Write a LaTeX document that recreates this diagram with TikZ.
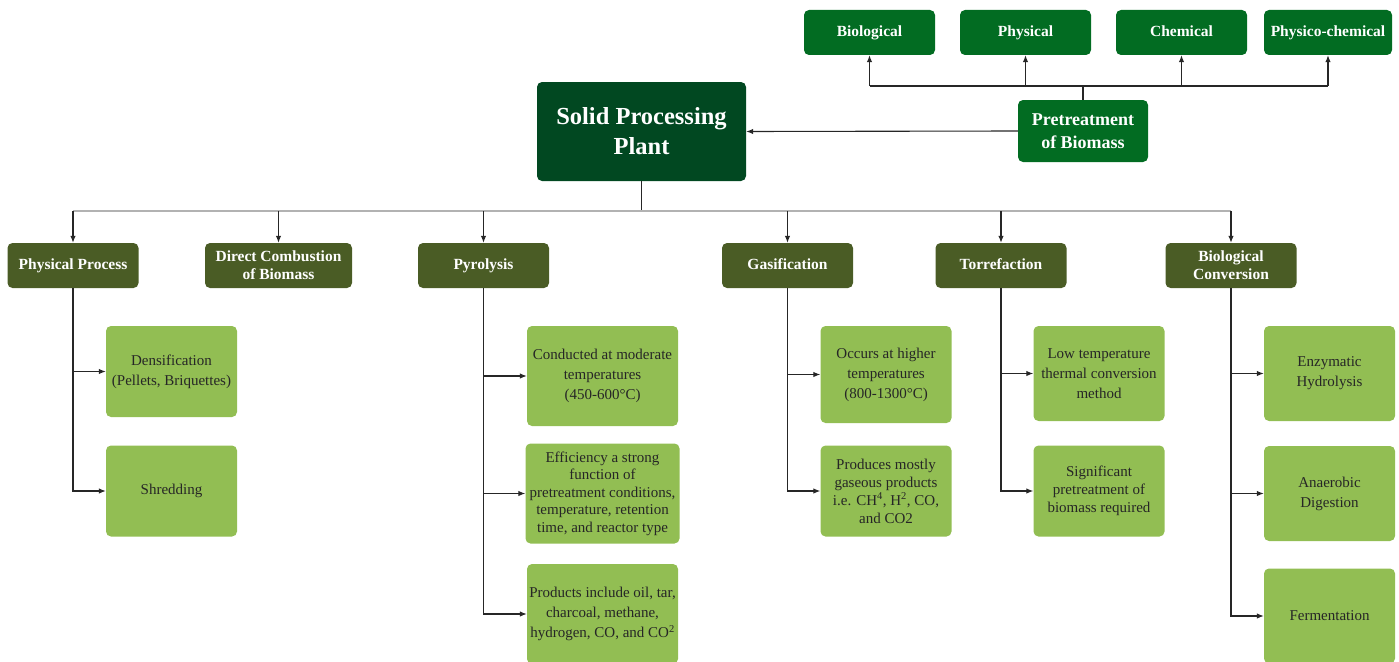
\documentclass[tikz,border=0pt]{standalone}
\usepackage{fontspec}
\setmainfont{Liberation Serif}
\usetikzlibrary{arrows.meta,positioning}

\definecolor{topgreen}{RGB}{2,108,34}
\definecolor{plantgreen}{RGB}{1,72,33}
\definecolor{olive}{RGB}{74,92,37}
\definecolor{leaf}{RGB}{146,190,83}

\tikzset{
  basebox/.style={rectangle,rounded corners=5pt,align=center,inner sep=1pt},
  oneline/.style={text height=11pt,text depth=3pt},
  topbox/.style={basebox,oneline,fill=topgreen,text=white,font=\bfseries\fontsize{15.5}{18}\selectfont,
    minimum width=131,minimum height=45},
  plantbox/.style={basebox,fill=plantgreen,text=white,font=\bfseries\fontsize{24.5}{30}\selectfont,
    minimum width=209,minimum height=99},
  procbox/.style={basebox,fill=olive,text=white,font=\bfseries\fontsize{15.5}{18}\selectfont,
    minimum width=131,minimum height=45},
  detailbox/.style={basebox,fill=leaf,text=black!85,font=\fontsize{15}{20}\selectfont,
    minimum width=131,minimum height=91},
  arr/.style={-{Latex[length=7pt,width=5.5pt]},black!85,line width=1.1pt},
  link/.style={black!85,line width=1.1pt}
}

\begin{document}
\begin{tikzpicture}[x=1pt,y=-1pt]
\useasboundingbox (0,0) rectangle (1399,661);

% top row: pretreatment types
\node[topbox] (bio) at (869.5,32.5) {Biological};
\node[topbox] (phy) at (1025.5,32.5) {Physical};
\node[topbox] (che) at (1181.5,32.5) {Chemical};
\node[topbox,minimum width=128] (pch) at (1328,32.5) {Physico-chemical};
\node[topbox,minimum width=130,minimum height=62,text height=,text depth=,font=\bfseries\fontsize{18}{23}\selectfont] (pre) at (1083,131) {Pretreatment\\of Biomass};

% main plant
\node[plantbox] (spp) at (641.5,131.5) {Solid Processing\\Plant};

% processes
\node[procbox,oneline] (pp) at (73,265.5) {Physical Process};
\node[procbox,minimum width=147] (dc) at (278.5,265.5) {Direct Combustion\\of Biomass};
\node[procbox,oneline] (py) at (483.5,265.5) {Pyrolysis};
\node[procbox,oneline] (ga) at (787.5,265.5) {Gasification};
\node[procbox,oneline] (to) at (1001,265.5) {Torrefaction};
\node[procbox] (bc) at (1231,265.5) {Biological\\Conversion};

% details
\node[detailbox] (dens) at (171.5,371.5) {Densification\\(Pellets, Briquettes)};
\node[detailbox] (shr) at (171.5,491) {Shredding};

\node[detailbox,minimum width=151,minimum height=100] (py1) at (602.5,376) {Conducted at moderate\\temperatures\\(450-600°C)};
\node[detailbox,minimum width=154,minimum height=100,font=\fontsize{15}{17.5}\selectfont] (py2) at (602.5,493.5) {Efficiency a strong\\function of\\pretreatment conditions,\\temperature, retention\\time, and reactor type};
\node[detailbox,minimum width=151,minimum height=100] (py3) at (602.5,614) {Products include oil, tar,\\charcoal, methane,\\hydrogen, CO, and CO\textsuperscript{2}};

\node[detailbox,minimum height=97] (ga1) at (886,374.5) {Occurs at higher\\temperatures\\(800-1300°C)};
\node[detailbox,font=\fontsize{15}{18}\selectfont] (ga2) at (886,491) {Produces mostly\\gaseous products\\i.e. CH\textsuperscript{4}, H\textsuperscript{2}, CO,\\and CO2};

\node[detailbox,minimum height=95] (to1) at (1099,373.5) {Low temperature\\thermal conversion\\method};
\node[detailbox,font=\fontsize{15}{18}\selectfont] (to2) at (1099,491) {Significant\\pretreatment of\\biomass required};

\node[detailbox,minimum height=95] (bc1) at (1329.5,373.5) {Enzymatic\\Hydrolysis};
\node[detailbox,minimum height=95] (bc2) at (1329.5,493.5) {Anaerobic\\Digestion};
\node[detailbox,minimum height=95] (bc3) at (1329.5,616) {Fermentation};

% pretreatment connectors
\coordinate (tbus) at (1083,86);
\draw[link] (pre.north) -- (tbus);
\draw[link] (tbus -| bio.south) -- (tbus -| pch.south);
\foreach \n in {bio,phy,che,pch}
  \draw[arr] (tbus -| \n.south) -- (\n.south);
\draw[arr] (pre.west) -- (spp.east);

% process connectors
\coordinate (bus) at (641.5,211);
\draw[link] (spp.south) -- (bus);
\draw[black!30,line width=2pt] (bus -| pp.north) -- (bus -| bc.north);
\foreach \n in {pp,dc,py,ga,to,bc}
  \draw[arr] (bus -| \n.north) -- (\n.north);

% detail connectors
\foreach \p/\c in {pp/dens,pp/shr,py/py1,py/py2,py/py3,ga/ga1,ga/ga2,to/to1,to/to2,bc/bc1,bc/bc2,bc/bc3}
  \draw[arr] (\p.south) |- (\c.west);
\end{tikzpicture}
\end{document}
